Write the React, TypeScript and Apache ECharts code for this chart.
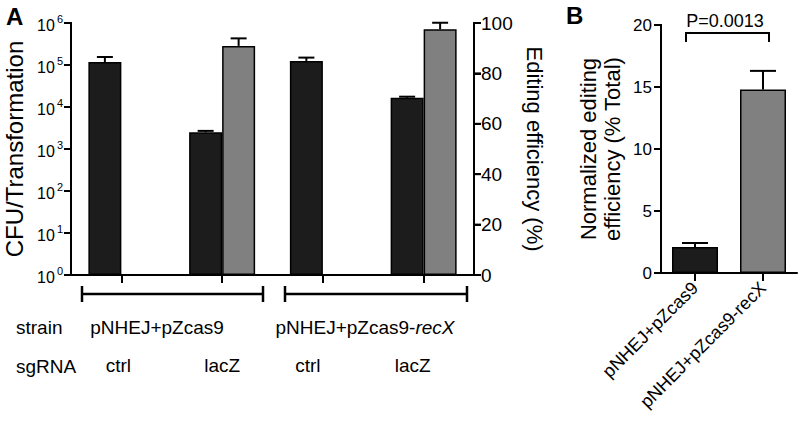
import React, { useEffect, useRef } from "react";
import * as echarts from "echarts";

// ---- Data ----
const sgRNA = ["ctrl", "lacZ", "ctrl", "lacZ"];
const strains = ["pNHEJ+pZcas9", "pNHEJ+pZcas9-recX"];
const cfu = [1.18e5, 2.5e3, 1.25e5, 1.66e4];
const cfuErrTop = [1.55e5, 2.7e3, 1.5e5, 1.76e4];
const efficiency = [null, 90.9, null, 97.5];
const efficiencyErrTop = [null, 93.9, null, 100.1];
const normCategories = ["pNHEJ+pZcas9", "pNHEJ+pZcas9-recX"];
const normEfficiency = [2.1, 14.8];
const normErrTop = [2.42, 16.3];
const pValueLabel = "P=0.0013";
const cfuTicks = [1, 10, 100, 1000, 10000, 100000, 1000000];
const effTicks = [0, 20, 40, 60, 80, 100];
const normTicks = [0, 5, 10, 15, 20];

const FONT = 'Arial, "Liberation Sans", Helvetica, sans-serif';
const BLACK = "#000";

// grid boxes (layout)
const GA = { left: 71, top: 23, width: 403, height: 252 };
const GB = { left: 661, top: 25, width: 136, height: 248 };

function errRender(offset: number, capHalf: number) {
  return (params: any, api: any) => {
    const v = api.value(1);
    const e = api.value(2);
    if (v == null || isNaN(v) || e == null || isNaN(e)) return null;
    const x = api.value(0);
    const p1 = api.coord([x, v]);
    const p2 = api.coord([x, e]);
    const cx = p1[0] + offset;
    return {
      type: "group",
      children: [
        { type: "line", shape: { x1: cx, y1: p1[1], x2: cx, y2: p2[1] }, style: { stroke: BLACK, lineWidth: 2 } },
        { type: "line", shape: { x1: cx - capHalf, y1: p2[1], x2: cx + capHalf, y2: p2[1] }, style: { stroke: BLACK, lineWidth: 2 } },
      ],
    };
  };
}

// vertical axis line + outward ticks as filled rects, placed through the axis scale
function axisRender(side: "left" | "right") {
  return (params: any, api: any) => {
    const cs = params.coordSys || {};
    const edge = side === "left" ? cs.x : cs.x + cs.width;
    const y = api.coord([0, api.value(1)])[1];
    const children: any[] = [
      {
        type: "rect",
        shape: { x: side === "left" ? edge - 7 : edge, y: y - 1, width: 7, height: 2 },
        style: { fill: BLACK },
      },
    ];
    if (params.dataIndex === 0) {
      children.push({
        type: "rect",
        shape: { x: edge - 1, y: cs.y - 1, width: 2, height: cs.height + 2 },
        style: { fill: BLACK },
      });
    }
    return { type: "group", children };
  };
}

const mkLine = () => ({ show: true, lineStyle: { color: BLACK, width: 2 } });
const mkTick = (len: number) => ({ show: true, length: len, alignWithLabel: true, lineStyle: { color: BLACK, width: 2 } });
const hidden = () => ({ show: false });

export default function App() {
  const ref = useRef<HTMLDivElement>(null);
  useEffect(() => {
    if (!ref.current) return;
    const chart = echarts.init(ref.current, null, { renderer: "svg" });
    const labelOffsets = ["c0", "c1", "c2", "c3"];
    const seg = (x1: number, y1: number, x2: number, y2: number, w = 2.5) => ({
      type: "polyline",
      shape: { points: [[x1, y1], [x2, y2]] },
      style: { stroke: BLACK, lineWidth: w, fill: null },
    });
    const graphic: any[] = [
      { type: "text", left: 6, top: 4, style: { text: "A", fontSize: 24, fontWeight: "bold", fill: BLACK, fontFamily: FONT } },
      { type: "text", left: 566, top: 3, style: { text: "B", fontSize: 24, fontWeight: "bold", fill: BLACK, fontFamily: FONT } },
      // strain brackets
      seg(82, 286, 82, 302),
      seg(82, 294, 263, 294),
      seg(263, 286, 263, 302),
      seg(285, 286, 285, 302),
      seg(285, 294, 467, 294),
      seg(467, 286, 467, 302),
      // row headers
      { type: "text", x: 16, y: 327, style: { text: "strain", fontSize: 19, fill: BLACK, fontFamily: FONT, verticalAlign: "middle" } },
      { type: "text", x: 16, y: 366, style: { text: "sgRNA", fontSize: 19, fill: BLACK, fontFamily: FONT, verticalAlign: "middle" } },
      { type: "text", x: 157, y: 327, style: { text: strains[0], fontSize: 19, fill: BLACK, fontFamily: FONT, align: "center", verticalAlign: "middle" } },
      {
        type: "text",
        x: 365,
        y: 327,
        style: {
          text: `{n|${strains[1].replace("recX", "")}}{i|recX}`,
          align: "center",
          verticalAlign: "middle",
          fill: BLACK,
          rich: {
            n: { fontSize: 19, fontFamily: FONT, fill: BLACK },
            i: { fontSize: 19, fontFamily: FONT, fontStyle: "italic", fill: BLACK },
          },
        },
      },
      // p-value bracket
      { type: "polyline", shape: { points: [[686, 42], [686, 33], [769, 33], [769, 42]] }, style: { stroke: BLACK, lineWidth: 2, fill: null } },
      { type: "text", x: 725, y: 21, style: { text: pValueLabel, fontSize: 18, fill: BLACK, fontFamily: FONT, align: "center", verticalAlign: "middle" } },
    ];
    const option: any = {
      animation: false,
      backgroundColor: "#fff",
      textStyle: { fontFamily: FONT },
      grid: [
        { ...GA, containLabel: false, outerBoundsMode: "none" },
        { ...GB, containLabel: false, outerBoundsMode: "none" },
      ],
      xAxis: [
        {
          type: "category",
          gridIndex: 0,
          data: sgRNA,
          axisLine: mkLine(),
          axisTick: mkTick(8),
          axisLabel: {
            margin: 81,
            color: BLACK,
            fontSize: 19,
            fontFamily: FONT,
            formatter: (v: string, i: number) => `{${labelOffsets[i]}|${v}}`,
            rich: {
              c0: { fontSize: 19, fontFamily: FONT, color: BLACK, padding: [0, 6, 0, 0] },
              c1: { fontSize: 19, fontFamily: FONT, color: BLACK, padding: [0, 0, 0, 0] },
              c2: { fontSize: 19, fontFamily: FONT, color: BLACK, padding: [0, 30, 0, 0] },
              c3: { fontSize: 19, fontFamily: FONT, color: BLACK, padding: [0, 22, 0, 0] },
            },
          },
          splitLine: { show: false },
        },
        {
          type: "category",
          gridIndex: 1,
          data: normCategories,
          axisLine: mkLine(),
          axisTick: mkTick(8),
          axisLabel: { rotate: 45, margin: 12, color: BLACK, fontSize: 18, fontFamily: FONT, interval: 0 },
          splitLine: { show: false },
        },
      ],
      yAxis: [
        {
          type: "log",
          gridIndex: 0,
          logBase: 10,
          min: 1,
          max: 1e6,
          splitNumber: 6,
          position: "left",
          axisLine: mkLine(),
          axisTick: { show: true, length: 7, lineStyle: { color: BLACK, width: 2 } },
          splitLine: { show: false },
          axisLabel: {
            margin: 8,
            color: BLACK,
            fontSize: 16,
            fontFamily: FONT,
            formatter: (v: number) => `{base|10}{sup|${Math.round(Math.log10(v))}}`,
            rich: {
              base: { fontSize: 16, fontFamily: FONT, color: BLACK, verticalAlign: "bottom", lineHeight: 20, padding: [0, 2, 0, 0] },
              sup: { fontSize: 11, fontFamily: FONT, color: BLACK, verticalAlign: "top", lineHeight: 20 },
            },
          },
          name: "CFU/Transformation",
          nameLocation: "middle",
          nameRotate: 90,
          nameGap: 43,
          nameTextStyle: { fontSize: 24, color: BLACK, fontFamily: FONT },
        },
        {
          type: "value",
          gridIndex: 0,
          min: 0,
          max: 100,
          interval: 20,
          position: "right",
          axisLine: mkLine(),
          axisTick: { show: true, length: 7, lineStyle: { color: BLACK, width: 2 } },
          splitLine: { show: false },
          axisLabel: { margin: 7, color: BLACK, fontSize: 19, fontFamily: FONT },
          name: "Editing efficiency (%)",
          nameLocation: "middle",
          nameRotate: -90,
          nameGap: 45,
          nameTextStyle: { fontSize: 22, color: BLACK, fontFamily: FONT },
        },
        {
          type: "value",
          gridIndex: 1,
          min: 0,
          max: 20,
          interval: 5,
          position: "left",
          axisLine: mkLine(),
          axisTick: { show: true, length: 7, lineStyle: { color: BLACK, width: 2 } },
          splitLine: { show: false },
          axisLabel: { margin: 9, color: BLACK, fontSize: 17, fontFamily: FONT },
          name: "Normalized editing\nefficiency (% Total)",
          nameLocation: "middle",
          nameRotate: 90,
          nameGap: 37,
          nameTextStyle: { fontSize: 22, lineHeight: 24, color: BLACK, fontFamily: FONT },
        },
      ],
      series: [
        {
          type: "bar",
          name: "CFU",
          xAxisIndex: 0,
          yAxisIndex: 0,
          data: cfu,
          barWidth: 33,
          barGap: "0%",
          itemStyle: { color: "#1c1c1c", borderColor: BLACK, borderWidth: 1.5 },
        },
        {
          type: "bar",
          name: "Editing",
          xAxisIndex: 0,
          yAxisIndex: 1,
          data: efficiency,
          barWidth: 33,
          barGap: "0%",
          itemStyle: { color: "#808080", borderColor: BLACK, borderWidth: 1.5 },
        },
        {
          type: "custom",
          xAxisIndex: 0,
          yAxisIndex: 0,
          renderItem: errRender(-16.5, 8),
          data: cfu.map((v, i) => [i, v, cfuErrTop[i]]),
          z: 5,
        },
        {
          type: "custom",
          xAxisIndex: 0,
          yAxisIndex: 1,
          renderItem: errRender(16.5, 8),
          data: efficiency.map((v, i) => [i, v == null ? NaN : v, efficiencyErrTop[i] == null ? NaN : efficiencyErrTop[i]]),
          z: 5,
        },
        {
          type: "bar",
          name: "Normalized",
          xAxisIndex: 1,
          yAxisIndex: 2,
          barWidth: 46,
          data: normEfficiency.map((v, i) => ({
            value: v,
            itemStyle: { color: i === 0 ? "#1c1c1c" : "#808080", borderColor: BLACK, borderWidth: 1.5 },
          })),
        },
        {
          type: "custom",
          xAxisIndex: 1,
          yAxisIndex: 2,
          renderItem: errRender(0, 13),
          data: normEfficiency.map((v, i) => [i, v, normErrTop[i]]),
          z: 5,
        },
        // y-axis lines and ticks (filled rects)
        { type: "custom", xAxisIndex: 0, yAxisIndex: 0, silent: true, clip: false, z: 10, renderItem: axisRender("left"), data: cfuTicks.map((t) => [0, t]) },
        { type: "custom", xAxisIndex: 0, yAxisIndex: 1, silent: true, clip: false, z: 10, renderItem: axisRender("right"), data: effTicks.map((t) => [0, t]) },
        { type: "custom", xAxisIndex: 1, yAxisIndex: 2, silent: true, clip: false, z: 10, renderItem: axisRender("left"), data: normTicks.map((t) => [0, t]) },
      ],
      graphic,
    };
    chart.setOption(option);
    return () => chart.dispose();
  }, []);
  return <div ref={ref} style={{ width: 800, height: 435, position: "absolute", left: 0, top: 0 }} />;
}
